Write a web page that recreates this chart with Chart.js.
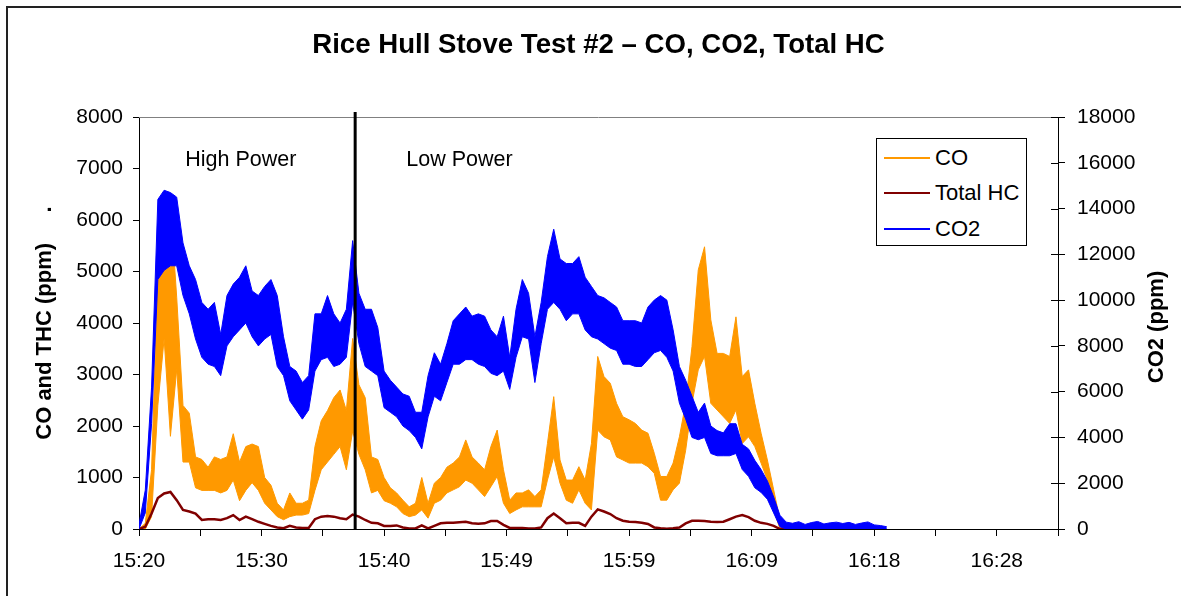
<!DOCTYPE html>
<html>
<head>
<meta charset="utf-8">
<title>Rice Hull Stove Test #2</title>
<script src="https://cdn.jsdelivr.net/npm/chart.js@4.4.1/dist/chart.umd.min.js"></script>
<style>
  html, body { margin: 0; padding: 0; background: #fff; overflow: hidden; }
  #wrap { position: relative; width: 1181px; height: 596px; }
  #legend {
    position: absolute; left: 876px; top: 138px; width: 151px; height: 108px;
    box-sizing: border-box; border: 1px solid #000; background: #fff;
    font: 22px "Liberation Sans", Arial, sans-serif; color: #000;
  }
  .row { position: absolute; left: 0; height: 24px; line-height: 24px; white-space: nowrap; }
  .swatch { position: absolute; left: 7px; top: 11px; width: 46px; height: 2px; }
  .lbl { position: absolute; left: 58px; top: 0; }
</style>
</head>
<body>
<div id="wrap">
  <canvas id="myChart" width="1181" height="596"></canvas>
  <div id="legend"></div>
</div>
<script>
    // readings every 30 s from 15:20
    var SAMPLE_MINUTES = 0.5;
    var MINOR_STEP = 4.875;
    var X_MAX = 73.125;
    var timeLabels = ['15:20', '15:30', '15:40', '15:49', '15:59', '16:09', '16:18', '16:28'];

    var seriesNames = ['CO', 'Total HC', 'CO2'];
    var seriesColors = ['#FF9900', '#800000', '#0000FF'];

    // CO (ppm), upper and lower edge of the noisy trace
    var coHigh = [
        0, 110, 1150, 5000, 5200, 6300, 4500, 2400, 2250, 1400,
        1350, 1200, 1400, 1350, 1400, 1850, 1300, 1600, 1650, 1600,
        1000, 850, 500, 370, 700, 500, 500, 560, 1600, 2100,
        2300, 2550, 2700, 2300, 3700, 2800, 2550, 1400, 1350, 1000,
        800, 700, 560, 430, 500, 1000, 500, 890, 1000, 1200,
        1280, 1400, 1730, 1400, 1280, 1150, 1600, 1920, 1150, 560,
        700, 700, 760, 630, 760, 1660, 2570, 1340, 950, 950,
        1210, 950, 1660, 3350, 2960, 2830, 2440, 2180, 2120, 2050,
        1920, 1860, 1470, 1020, 1020, 1280, 1790, 2440, 3540, 5030,
        5480, 4060, 3410, 3410, 3350, 4120, 2960, 3090, 2440, 1860,
        1340, 760, 180, 0
    ];
    var coLow = [
        0, 0, 240, 2400, 3700, 1800, 3100, 1300, 1300, 800,
        750, 750, 750, 700, 750, 950, 550, 750, 900, 750,
        500, 370, 240, 180, 240, 270, 270, 300, 750, 1150,
        1300, 1450, 1600, 1150, 1900, 1450, 1150, 700, 750, 550,
        500, 430, 300, 240, 270, 370, 210, 500, 560, 700,
        760, 820, 950, 890, 760, 630, 820, 1020, 500, 300,
        370, 430, 430, 430, 430, 950, 1400, 890, 560, 500,
        760, 500, 370, 1920, 1790, 1730, 1400, 1340, 1280, 1280,
        1280, 1210, 1080, 560, 560, 760, 890, 1530, 2440, 3090,
        3350, 2440, 2310, 2180, 2050, 2310, 1660, 1790, 1600, 1280,
        950, 370, 0, 0
    ];

    // Total HC (ppm)
    var thc = [
        0, 45, 300, 600, 690, 720, 560, 370, 340, 300,
        175, 190, 190, 175, 210, 270, 175, 240, 190, 140,
        100, 60, 30, 15, 60, 30, 20, 20, 190, 240,
        250, 240, 210, 190, 280, 240, 175, 120, 110, 60,
        60, 70, 30, 10, 10, 70, 10, 60, 110, 120,
        120, 130, 140, 110, 100, 110, 155, 155, 80, 20,
        20, 20, 10, 10, 30, 210, 300, 210, 110, 120,
        120, 60, 240, 380, 340, 290, 210, 160, 140, 136,
        123, 97, 30, 15, 5, 15, 30, 110, 160, 160,
        155, 142, 136, 142, 190, 240, 270, 230, 160, 120,
        100, 60, 0, 0
    ];

    // CO2 (ppm, right axis), upper and lower edge
    var co2High = [
        200, 1700, 6200, 14400, 14800, 14700, 14500, 12500, 11500, 10900,
        9900, 9600, 9900, 8500, 10200, 10700, 11000, 11500, 10400, 10200,
        10600, 10900, 10200, 8400, 7100, 6900, 6400, 6700, 9400, 9400,
        10200, 9400, 9000, 9600, 12600, 10300, 9600, 9600, 8800, 6900,
        6500, 6200, 5900, 5800, 5100, 5100, 6700, 7700, 7200, 8100,
        9100, 9400, 9700, 9300, 9400, 9300, 8700, 8400, 9300, 7500,
        9600, 10900, 10300, 8400, 9900, 11900, 13100, 11800, 11600, 11600,
        11900, 11000, 10600, 10200, 10100, 9900, 9700, 9100, 9100, 9100,
        9000, 9700, 10000, 10200, 10000, 8700, 7100, 6500, 5800, 5100,
        5500, 4500, 4300, 4200, 4600, 4600, 3700, 3500, 3000, 2600,
        2100, 1400, 600, 300, 250, 320, 200, 280, 330, 220,
        270, 300, 240, 290, 200, 260, 310, 180, 150, 100
    ];
    var co2Low = [
        0, 700, 4600, 10900, 11300, 11500, 11500, 10200, 9400, 8300,
        7500, 7200, 7100, 6700, 8000, 8400, 8700, 9000, 8400, 8000,
        8300, 8500, 7100, 6700, 5600, 5200, 4800, 5200, 6900, 7400,
        7500, 7100, 7200, 7500, 9900, 8100, 7100, 6900, 6700, 5300,
        5100, 4900, 4500, 4300, 4000, 3500, 4900, 5800, 5600, 6400,
        7200, 7200, 7400, 7400, 7200, 7100, 6800, 6700, 6900, 6100,
        7500, 8400, 8300, 6400, 8100, 9600, 9900, 9600, 9100, 9400,
        9400, 8700, 8400, 8300, 8100, 7900, 7800, 7200, 7200, 7100,
        7100, 7400, 7700, 7800, 7500, 6900, 5500, 4800, 4000, 3900,
        4000, 3300, 3200, 3200, 3200, 3300, 2600, 2300, 1800, 1600,
        1300, 700, 100, 0, 0, 0, 0, 0, 0, 0,
        0, 0, 0, 0, 0, 0, 0, 0, 0, 0
    ];

    var phaseNames = ['High Power', 'Low Power'];
    var phaseLabelMinutes = [8.1, 25.5];
    var phaseLabelLevel = 7170;
    var phaseChangeMinute = 17.2;

    var FONT = '"Liberation Sans", Arial, sans-serif';
    Chart.defaults.font.family = FONT;
    Chart.defaults.color = '#000';

    function toPoints(values) {
        return values.map(function (v, i) { return { x: i * SAMPLE_MINUTES, y: v }; });
    }

    function lineSet(label, values, color, axis, width, fill) {
        return {
            label: label,
            data: toPoints(values),
            yAxisID: axis,
            borderColor: color,
            backgroundColor: color,
            borderWidth: width,
            pointRadius: 0,
            tension: 0,
            fill: fill
        };
    }

    // first dataset is painted last, so CO2 sits on top like in the original
    var datasets = [
        lineSet(seriesNames[2], co2High, seriesColors[2], 'y2', 1, false),
        lineSet(seriesNames[2] + ' low', co2Low, seriesColors[2], 'y2', 1, '-1'),
        lineSet(seriesNames[1], thc, seriesColors[1], 'y', 2.5, false),
        lineSet(seriesNames[0], coHigh, seriesColors[0], 'y', 1, false),
        lineSet(seriesNames[0] + ' low', coLow, seriesColors[0], 'y', 1, '-1')
    ];

    var overlay = {
        id: 'overlay',
        beforeDraw: function (chart) {
            var ctx = chart.ctx;
            ctx.save();
            ctx.strokeStyle = '#222';
            ctx.lineWidth = 2;
            ctx.beginPath();
            ctx.moveTo(7, chart.height);
            ctx.lineTo(7, 7);
            ctx.lineTo(chart.width, 7);
            ctx.stroke();
            ctx.restore();
        },
        afterDatasetsDraw: function (chart) {
            var ctx = chart.ctx;
            var area = chart.chartArea;
            var xs = chart.scales.x;
            var ys = chart.scales.y;
            var y2 = chart.scales.y2;
            ctx.save();
            // plot area frame on top
            ctx.strokeStyle = '#808080';
            ctx.lineWidth = 1;
            ctx.beginPath();
            ctx.moveTo(area.left, Math.round(area.top) + 0.5);
            ctx.lineTo(area.right, Math.round(area.top) + 0.5);
            ctx.stroke();
            // inner half of right axis ticks
            ctx.strokeStyle = '#000';
            y2.ticks.forEach(function (t) {
                var py = Math.round(y2.getPixelForValue(t.value)) + 0.5;
                ctx.beginPath();
                ctx.moveTo(area.right - 7, py);
                ctx.lineTo(area.right, py);
                ctx.stroke();
            });
            // high / low power split
            var px = xs.getPixelForValue(phaseChangeMinute);
            ctx.lineWidth = 3;
            ctx.beginPath();
            ctx.moveTo(px, area.top - 5);
            ctx.lineTo(px, area.bottom);
            ctx.stroke();
            ctx.fillStyle = '#000';
            ctx.font = '21.5px ' + FONT;
            ctx.textAlign = 'center';
            ctx.textBaseline = 'middle';
            phaseNames.forEach(function (name, i) {
                ctx.fillText(name, xs.getPixelForValue(phaseLabelMinutes[i]), ys.getPixelForValue(phaseLabelLevel));
            });
            ctx.restore();
        },
        afterDraw: function (chart) {
            var ctx = chart.ctx;
            var area = chart.chartArea;
            ctx.save();
            ctx.translate(1157, (area.top + area.bottom) / 2 + 4);
            ctx.rotate(-Math.PI / 2);
            ctx.font = 'bold 22px ' + FONT;
            ctx.fillStyle = '#000';
            ctx.textAlign = 'center';
            ctx.textBaseline = 'middle';
            ctx.fillText('CO2 (ppm)', 0, 0);
            ctx.restore();
        }
    };

    var tickFont = { size: 21 };

    new Chart(document.getElementById('myChart'), {
        type: 'line',
        data: { datasets: datasets },
        plugins: [overlay],
        options: {
            responsive: false,
            animation: false,
            events: [],
            layout: { padding: { left: 16, top: 0, right: 0, bottom: 0 } },
            plugins: {
                legend: { display: false },
                tooltip: { enabled: false },
                title: {
                    display: true,
                    text: 'Rice Hull Stove Test #2 \u2013 CO, CO2, Total HC',
                    color: '#000',
                    font: { size: 27.6, weight: 'bold' },
                    padding: { top: 28.5, bottom: 55.4 }
                }
            },
            scales: {
                x: {
                    type: 'linear',
                    min: 0,
                    max: X_MAX,
                    afterFit: function (s) { s.height = 67; },
                    border: { color: '#000', width: 1 },
                    grid: { drawOnChartArea: false, tickLength: 7, tickColor: '#000' },
                    ticks: {
                        stepSize: MINOR_STEP,
                        autoSkip: false,
                        maxRotation: 0,
                        padding: 13,
                        font: tickFont,
                        callback: function (v, i) {
                            return i % 2 === 0 ? (timeLabels[i / 2] || '') : '';
                        }
                    }
                },
                y: {
                    position: 'left',
                    min: 0,
                    max: 8000,
                    afterFit: function (s) { s.width = 123; },
                    border: { color: '#000', width: 1 },
                    grid: { drawOnChartArea: false, tickLength: 6, tickColor: '#000' },
                    ticks: {
                        stepSize: 1000,
                        padding: 10,
                        font: tickFont,
                        callback: function (v) { return String(v); }
                    },
                    title: {
                        display: true,
                        text: 'CO and THC (ppm)     .',
                        font: { size: 22, weight: 'bold' },
                        padding: { top: 16, bottom: 0 }
                    }
                },
                y2: {
                    position: 'right',
                    min: 0,
                    max: 18000,
                    afterFit: function (s) { s.width = 123; },
                    border: { color: '#000', width: 1 },
                    grid: { drawOnChartArea: false, tickLength: 7, tickColor: '#000' },
                    ticks: {
                        stepSize: 2000,
                        padding: 12,
                        font: tickFont,
                        callback: function (v) { return String(v); }
                    }
                }
            }
        }
    });

    // legend box like the original (line sample + name)
    var legendEl = document.getElementById('legend');
    var rowTops = [7, 42, 78];
    seriesNames.forEach(function (name, i) {
        var row = document.createElement('div');
        row.className = 'row';
        row.style.top = rowTops[i] + 'px';
        row.style.width = '100%';
        var sw = document.createElement('span');
        sw.className = 'swatch';
        sw.style.background = seriesColors[i];
        var lb = document.createElement('span');
        lb.className = 'lbl';
        lb.textContent = name;
        row.appendChild(sw);
        row.appendChild(lb);
        legendEl.appendChild(row);
    });
</script>
</body>
</html>
